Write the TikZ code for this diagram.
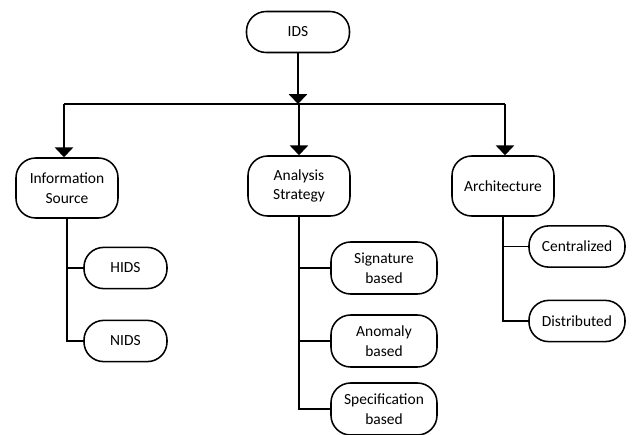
\documentclass[tikz,border=0pt]{standalone}
\usepackage{fontspec}
\setmainfont{Carlito}
\usetikzlibrary{arrows.meta}
\tikzset{
    box/.style={draw, rounded corners=14pt, line width=1.1pt, align=center, inner sep=2pt, font=\fontsize{11}{14}\selectfont},
    top/.style={box, minimum width=2.55cm, minimum height=1.5cm},
    leaf/.style={box, minimum height=1.03cm},
    con/.style={line width=1.1pt},
    arr/.style={con, -{Triangle[width=13pt,length=7pt]}}
}
\begin{document}
\begin{tikzpicture}[x=0.025cm, y=-0.025cm]
    \useasboundingbox (0,0) rectangle (633,435);
    %Wurzel
    \node at (298,32)[box, minimum width=2.575cm, minimum height=1.025cm](ids){IDS};
    %Kategorien
    \node at (67,188) [top](info){Information\\Source};
    \node at (299,186)[top](strat){Analysis\\Strategy};
    \node at (503,186)[top](arch){Architecture};
    %Verteiler
    \coordinate (bar)  at (299,104);
    \coordinate (barl) at (64,104);
    \coordinate (barr) at (505,104);
    \draw[arr](ids.south)--(ids.south |- bar);
    \draw[con](barl)--(barr);
    \draw[arr](barl)--(barl |- info.north);
    \draw[arr](bar) --(strat.north);
    \draw[arr](barr)--(barr |- arch.north);
    %Unterpunkte
    \node at (125.5,268)[leaf, minimum width=2.075cm](hids){HIDS};
    \node at (125.5,341)[leaf, minimum width=2.075cm](nids){NIDS};
    \node at (384,268)[leaf, minimum width=2.65cm, minimum height=1.3cm](sig){Signature\\based};
    \node at (384,341)[leaf, minimum width=2.65cm, minimum height=1.3cm](anom){Anomaly\\based};
    \node at (384,409)[leaf, minimum width=2.65cm, minimum height=1.3cm](spec){Specification\\based};
    \node at (577,246.5)[leaf, minimum width=2.4cm](cent){Centralized};
    \node at (577,321)[leaf, minimum width=2.4cm](dist){Distributed};
    %Aeste
    \draw[con](info.south)--(info.south |- nids.west)--(nids.west);
    \draw[con](info.south |- hids.west)--(hids.west);
    \draw[con](strat.south)--(strat.south |- spec.west)--(spec.west);
    \draw[con](strat.south |- sig.west) --(sig.west);
    \draw[con](strat.south |- anom.west)--(anom.west);
    \draw[con](arch.south)--(arch.south |- dist.west)--(dist.west);
    \draw[con](arch.south |- cent.west)--(cent.west);
\end{tikzpicture}
\end{document}
